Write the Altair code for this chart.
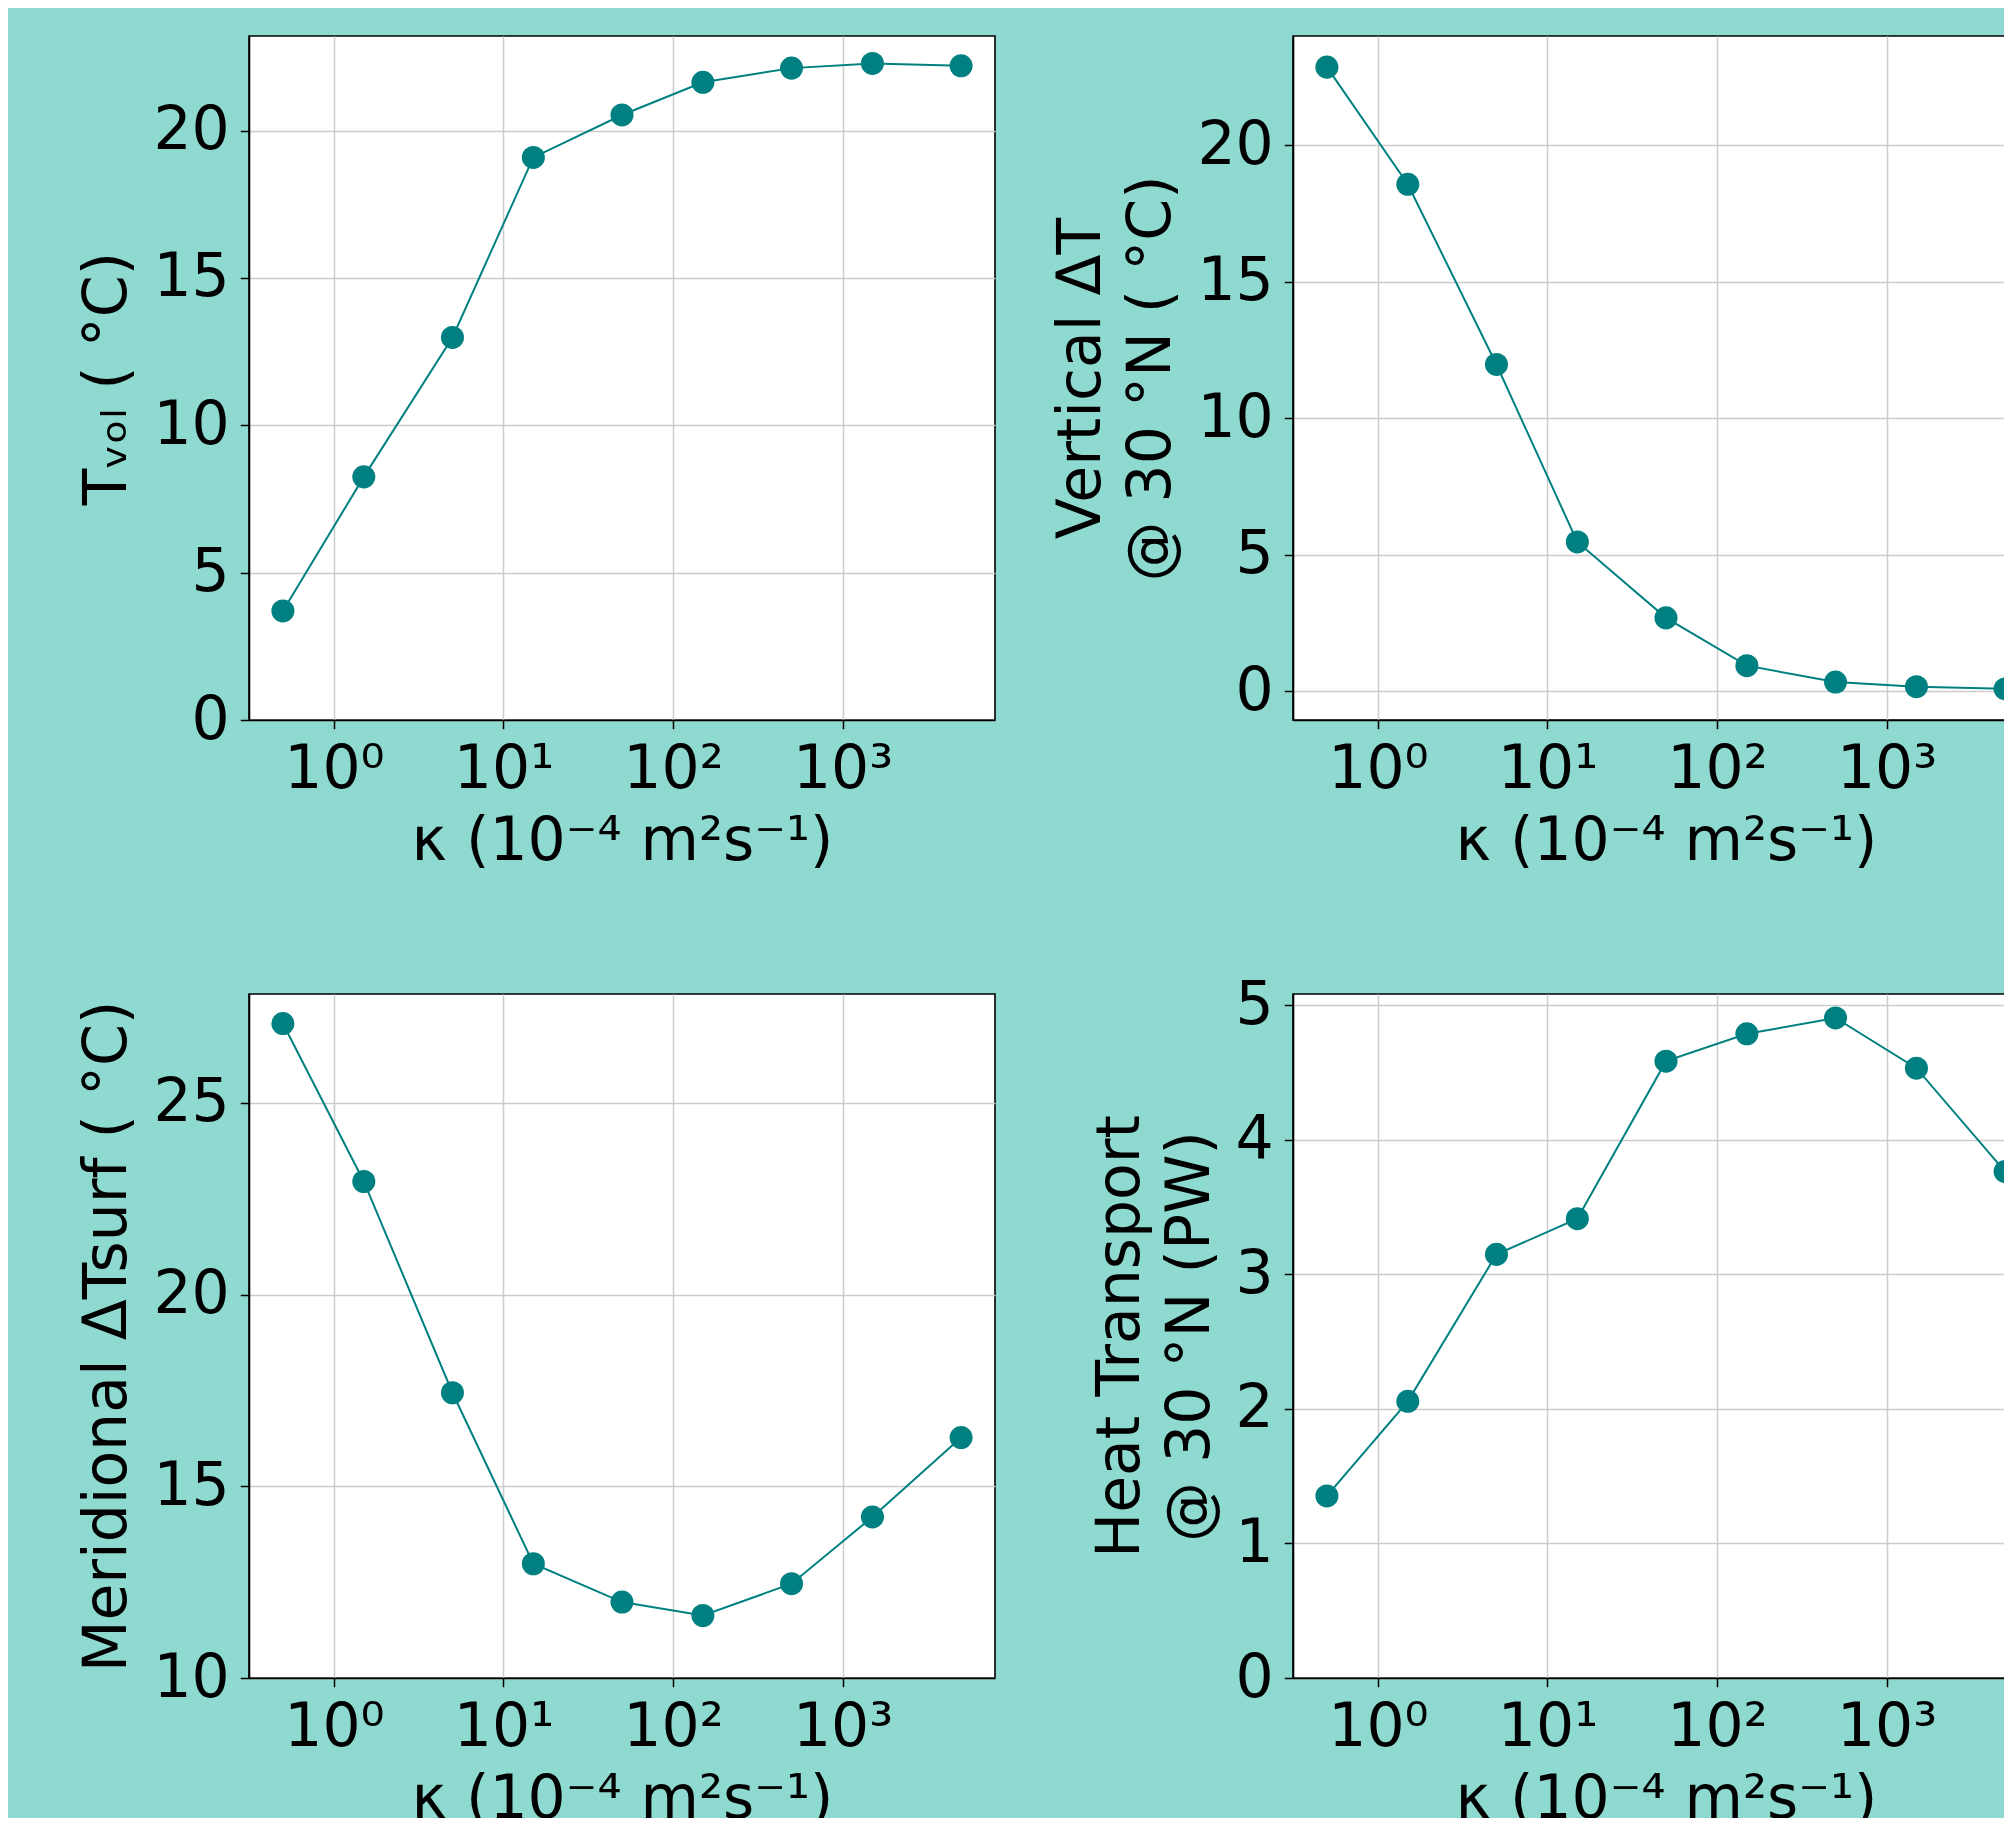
import altair as alt
import pandas as pd

# ---- data ----
KAPPA = [0.5, 1.5, 5, 15, 50, 150, 500, 1500, 5000]
T_VOL = [3.70, 8.25, 12.98, 19.09, 20.53, 21.64, 22.12, 22.28, 22.20]
DT_VERT = [22.86, 18.57, 11.97, 5.47, 2.69, 0.94, 0.34, 0.17, 0.09]
DT_MERID = [27.07, 22.95, 17.44, 12.98, 11.98, 11.63, 12.46, 14.20, 16.27]
HEAT = [1.353, 2.056, 3.148, 3.413, 4.584, 4.787, 4.905, 4.532, 3.764]

X_TICKS = [1, 10, 100, 1000]
X_TICK_LABELS = ["10\u2070", "10\u00b9", "10\u00b2", "10\u00b3"]
X_DOMAIN = [0.3155, 7925]
X_TITLE = "\u03ba (10\u207b\u2074 m\u00b2s\u207b\u00b9)"

Y1_TITLE = "T\u1d65\u2092\u2097 ( \u00b0C)"
Y2_TITLE = ["Vertical \u0394T", "@ 30 \u00b0N ( \u00b0C)"]
Y3_TITLE = "Meridional \u0394Tsurf ( \u00b0C)"
Y4_TITLE = ["Heat Transport", "@ 30 \u00b0N (PW)"]

Y1_DOMAIN, Y1_TICKS = [0, 23.21], [0, 5, 10, 15, 20]
Y2_DOMAIN, Y2_TICKS = [-1.05, 24.0], [0, 5, 10, 15, 20]
Y3_DOMAIN, Y3_TICKS = [10, 27.84], [10, 15, 20, 25]
Y4_DOMAIN, Y4_TICKS = [0, 5.083], [0, 1, 2, 3, 4, 5]

TEAL = "#008080"
FONT = "DejaVu Sans"

label_expr = " : ".join(
    f"datum.value == {v} ? '{s}'" for v, s in zip(X_TICKS, X_TICK_LABELS)
) + " : ''"


def panel(values, title, domain, ticks):
    df = pd.DataFrame({"kappa": KAPPA, "value": values})
    base = alt.Chart(df).encode(
        x=alt.X(
            "kappa:Q",
            scale=alt.Scale(type="log", domain=X_DOMAIN, nice=False),
            axis=alt.Axis(values=X_TICKS, labelExpr=label_expr, title=X_TITLE,
                          labelPadding=12, titlePadding=13),
        ),
        y=alt.Y(
            "value:Q",
            scale=alt.Scale(domain=domain, nice=False, zero=False),
            axis=alt.Axis(values=ticks, title=title, labelPadding=11, titlePadding=14),
        ),
    )
    line = base.mark_line(color=TEAL, strokeWidth=2)
    pts = base.mark_circle(color=TEAL, size=530, opacity=1)
    return alt.layer(line, pts).properties(width=746, height=684)


p1 = panel(T_VOL, Y1_TITLE, Y1_DOMAIN, Y1_TICKS)
p2 = panel(DT_VERT, Y2_TITLE, Y2_DOMAIN, Y2_TICKS)
p3 = panel(DT_MERID, Y3_TITLE, Y3_DOMAIN, Y3_TICKS)
p4 = panel(HEAT, Y4_TITLE, Y4_DOMAIN, Y4_TICKS)

chart = (
    alt.concat(p1, p2, p3, p4, columns=2,
               spacing={"row": 274, "column": 298}, bounds="flush")
    .properties(
        background="#8ed9d0",
        autosize=alt.AutoSizeParams(type="none"),
        padding={"left": 241, "top": 28, "right": 1755, "bottom": 1782},
    )
    .configure_view(fill="white", stroke="black", strokeWidth=1.6)
    .configure_axis(
        labelFont=FONT, titleFont=FONT, labelFontSize=60, titleFontSize=60,
        labelColor="black", titleColor="black", titleFontWeight="normal",
        tickColor="black", tickSize=8.7, tickWidth=1.5,
        domainColor="black", domainWidth=1.6,
        gridColor="#cccccc", gridWidth=1.5, titleLineHeight=70,
        labelFlush=False, labelOverlap=False,
    )
)

chart.save("out.html", embed_options={"renderer": "svg", "actions": False})
